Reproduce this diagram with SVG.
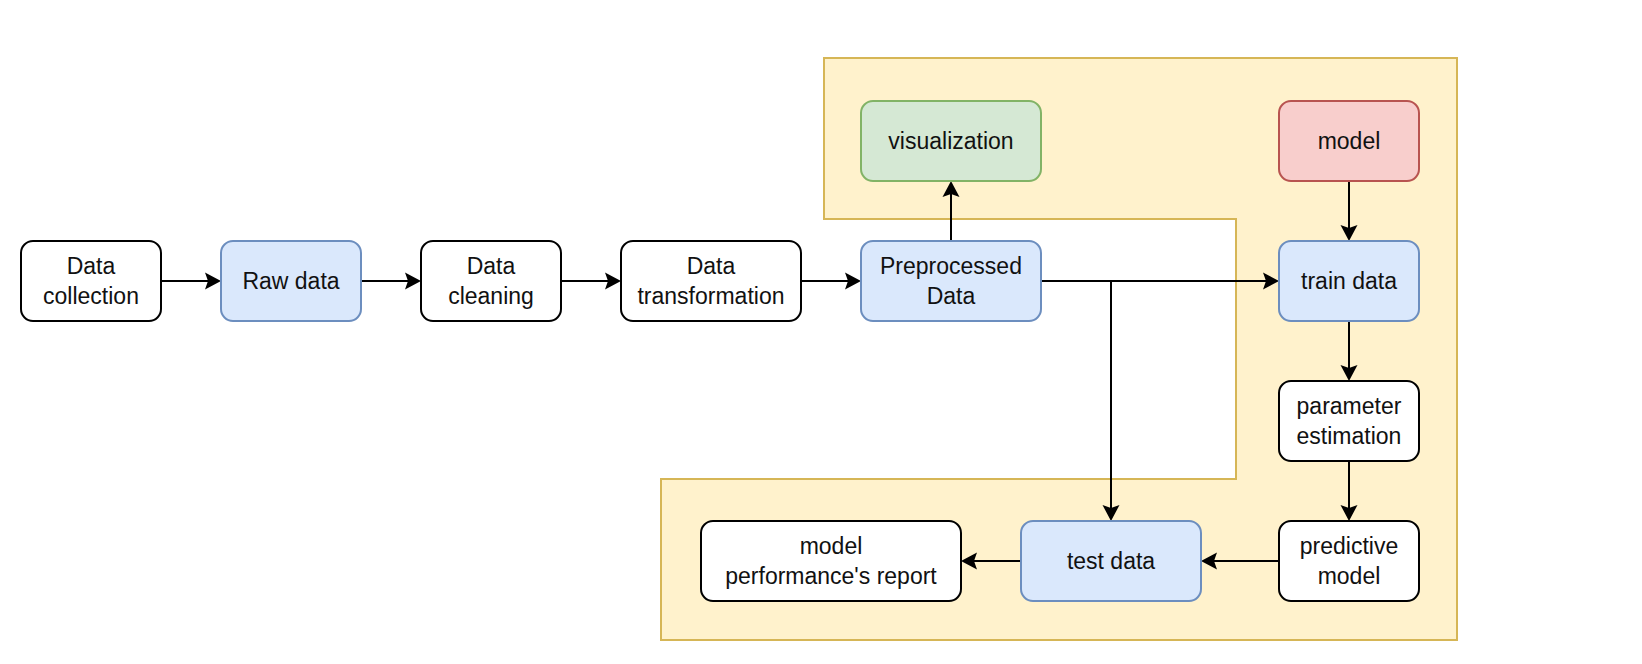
<svg xmlns="http://www.w3.org/2000/svg" width="1642" height="664" viewBox="0 0 1642 664">
<style>
.n{stroke-width:2}
.plain{fill:#ffffff;stroke:#000000}
.blue{fill:#dae8fc;stroke:#6c8ebf}
.green{fill:#d5e8d4;stroke:#82b366}
.red{fill:#f8cecc;stroke:#b85450}
text{font-family:"Liberation Sans",Arial,Helvetica,sans-serif;font-size:23px;fill:#111111;text-anchor:middle}
.e{fill:none;stroke:#000000;stroke-width:2}
</style>
<defs>
<marker id="arr" viewBox="0 -9 16 18" refX="3" refY="0" markerWidth="16" markerHeight="18" markerUnits="userSpaceOnUse" orient="auto">
<path d="M0,-8.5 L16,0 L0,8.5 L3,0 Z" fill="#000000"/>
</marker>
</defs>
<rect width="1642" height="664" fill="#ffffff"/>
<g id="container">
<path d="M824,58 H1457 V640 H661 V479 H1236 V219 H824 Z" fill="#fff2cc" stroke="#d6b656" stroke-width="2"/>
</g>
<g id="connectors">
<path class="e" d="M161,281 H208" marker-end="url(#arr)"/>
<path class="e" d="M361,281 H408" marker-end="url(#arr)"/>
<path class="e" d="M561,281 H608" marker-end="url(#arr)"/>
<path class="e" d="M801,281 H848" marker-end="url(#arr)"/>
<path class="e" d="M951,241 V194" marker-end="url(#arr)"/>
<path class="e" d="M1041,281 H1266" marker-end="url(#arr)"/>
<path class="e" d="M1111,281 V508" marker-end="url(#arr)"/>
<path class="e" d="M1349,181 V228" marker-end="url(#arr)"/>
<path class="e" d="M1349,321 V368" marker-end="url(#arr)"/>
<path class="e" d="M1349,461 V508" marker-end="url(#arr)"/>
<path class="e" d="M1279,561 H1214" marker-end="url(#arr)"/>
<path class="e" d="M1021,561 H974" marker-end="url(#arr)"/>
</g>
<g id="data-collection">
<rect class="n plain" x="21" y="241" width="140" height="80" rx="12"/>
<text x="91" y="274">Data</text>
<text x="91" y="304">collection</text>
</g>
<g id="raw-data">
<rect class="n blue" x="221" y="241" width="140" height="80" rx="12"/>
<text x="291" y="289">Raw data</text>
</g>
<g id="data-cleaning">
<rect class="n plain" x="421" y="241" width="140" height="80" rx="12"/>
<text x="491" y="274">Data</text>
<text x="491" y="304">cleaning</text>
</g>
<g id="data-transformation">
<rect class="n plain" x="621" y="241" width="180" height="80" rx="12"/>
<text x="711" y="274">Data</text>
<text x="711" y="304">transformation</text>
</g>
<g id="preprocessed-data">
<rect class="n blue" x="861" y="241" width="180" height="80" rx="12"/>
<text x="951" y="274">Preprocessed</text>
<text x="951" y="304">Data</text>
</g>
<g id="visualization">
<rect class="n green" x="861" y="101" width="180" height="80" rx="12"/>
<text x="951" y="149">visualization</text>
</g>
<g id="model">
<rect class="n red" x="1279" y="101" width="140" height="80" rx="12"/>
<text x="1349" y="149">model</text>
</g>
<g id="train-data">
<rect class="n blue" x="1279" y="241" width="140" height="80" rx="12"/>
<text x="1349" y="289">train data</text>
</g>
<g id="parameter-estimation">
<rect class="n plain" x="1279" y="381" width="140" height="80" rx="12"/>
<text x="1349" y="414">parameter</text>
<text x="1349" y="444">estimation</text>
</g>
<g id="predictive-model">
<rect class="n plain" x="1279" y="521" width="140" height="80" rx="12"/>
<text x="1349" y="554">predictive</text>
<text x="1349" y="584">model</text>
</g>
<g id="test-data">
<rect class="n blue" x="1021" y="521" width="180" height="80" rx="12"/>
<text x="1111" y="569">test data</text>
</g>
<g id="model-report">
<rect class="n plain" x="701" y="521" width="260" height="80" rx="12"/>
<text x="831" y="554">model</text>
<text x="831" y="584">performance's report</text>
</g>
</svg>
